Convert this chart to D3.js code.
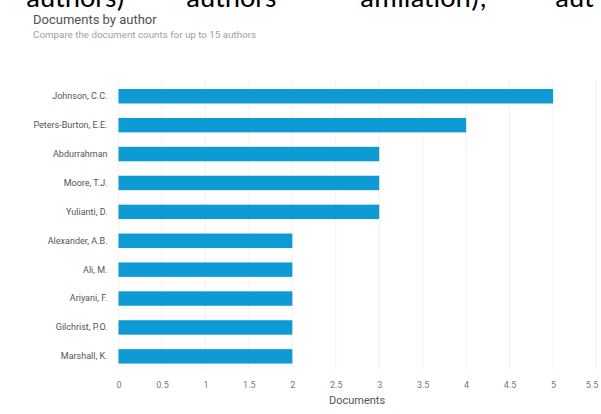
<!DOCTYPE html>
<html>
<head>
<meta charset="utf-8">
<script src="https://cdn.jsdelivr.net/npm/d3@7"></script>
<style>
  html, body { margin: 0; padding: 0; background: #fff; }
  svg { display: block; }
</style>
</head>
<body>
<svg id="chart" width="601" height="414"></svg>
<script>
// Document counts per author
const authors = [
  "Johnson, C.C.", "Peters-Burton, E.E.", "Abdurrahman", "Moore, T.J.", "Yulianti, D.",
  "Alexander, A.B.", "Ali, M.", "Ariyani, F.", "Gilchrist, P.O.", "Marshall, K."
];
const documents = [5, 4, 3, 3, 3, 2, 2, 2, 2, 2];
const xTicks = [0, 0.5, 1, 1.5, 2, 2.5, 3, 3.5, 4, 4.5, 5, 5.5];
const xTickLabels = ["0", "0.5", "1", "1.5", "2", "2.5", "3", "3.5", "4", "4.5", "5", "5.5"];
// Running text of the surrounding page, clipped at the top edge
const headerWords = ["authors)", "authors", "affiliation),", "aut"];

const svg = d3.select("#chart");
const font = "Roboto, 'Liberation Sans', Arial, sans-serif";

// Clipped body text line above the chart
const headerX = [26, 186, 360, 555];
svg.append("g")
  .selectAll("text")
  .data(headerWords)
  .join("text")
  .attr("x", (d, i) => headerX[i])
  .attr("y", 6.5)
  .attr("font-family", "Carlito, Lato, 'Open Sans', sans-serif")
  .attr("font-size", 29)
  .attr("fill", "#000")
  .text(d => d);

// Title block
svg.append("text")
  .attr("x", 33).attr("y", 24)
  .attr("font-family", font)
  .attr("font-size", 13)
  .attr("fill", "#505050")
  .text("Documents by author");

svg.append("text")
  .attr("x", 33).attr("y", 38)
  .attr("font-family", font)
  .attr("font-size", 9.8)
  .attr("fill", "#a0a0a0")
  .text("Compare the document counts for up to 15 authors");

// Scales
const x = d3.scaleLinear().domain([0, 5.5]).range([118.5, 596.5]);
const y = d3.scaleBand().domain(authors).range([81.8, 370.8]).paddingInner(0.5).paddingOuter(0.25);

// Vertical gridlines
svg.append("g")
  .selectAll("line")
  .data(xTicks)
  .join("line")
  .attr("x1", d => x(d)).attr("x2", d => x(d))
  .attr("y1", 80).attr("y2", 370)
  .attr("stroke", "#f2f2f2")
  .attr("stroke-width", 1);

// Bars
svg.append("g")
  .selectAll("rect")
  .data(authors)
  .join("rect")
  .attr("x", x(0))
  .attr("y", d => y(d))
  .attr("width", (d, i) => x(documents[i]) - x(0))
  .attr("height", y.bandwidth())
  .attr("fill", "#0e9bd3");

// Author labels
const yAxis = svg.append("g")
  .attr("transform", `translate(${x(0) - 11},0)`)
  .call(d3.axisLeft(y).tickSize(0).tickPadding(0));
yAxis.select(".domain").remove();
yAxis.selectAll("text")
  .attr("font-family", font)
  .attr("font-size", 9)
  .attr("fill", "#555");

// Value axis
const xAxis = svg.append("g")
  .attr("transform", "translate(0,372)")
  .call(d3.axisBottom(x).tickValues(xTicks).tickFormat((d, i) => xTickLabels[i]).tickSize(0).tickPadding(10));
xAxis.select(".domain").remove();
xAxis.selectAll("text")
  .attr("font-family", font)
  .attr("font-size", 9)
  .attr("fill", "#777");
// keep the last tick label inside the frame
xAxis.selectAll("text").filter(d => d === 5.5).attr("dx", -5);

svg.append("text")
  .attr("x", 357).attr("y", 404)
  .attr("text-anchor", "middle")
  .attr("font-family", font)
  .attr("font-size", 11)
  .attr("fill", "#555")
  .text("Documents");
</script>
</body>
</html>
